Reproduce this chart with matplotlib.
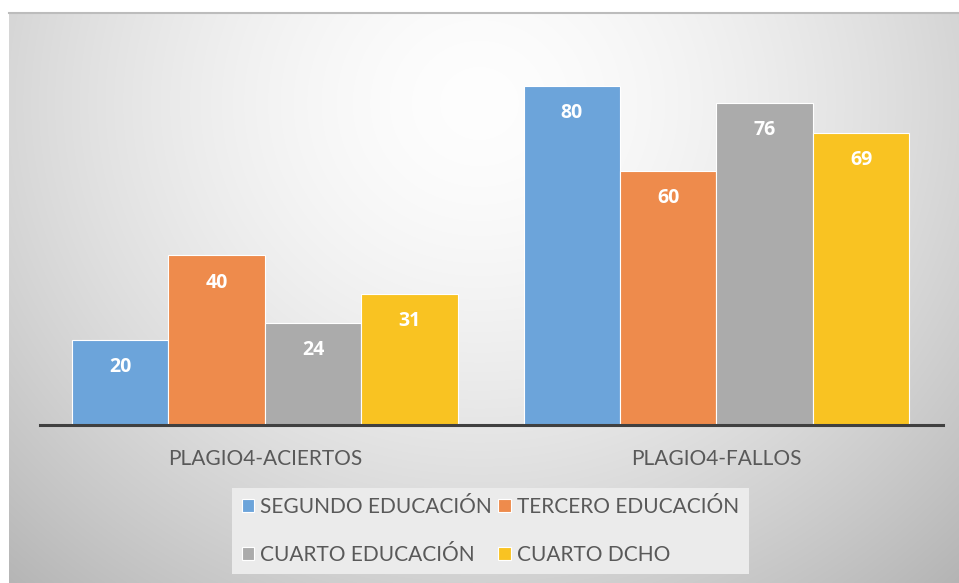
import numpy as np
import matplotlib
matplotlib.use('Agg')
import matplotlib.pyplot as plt

# datos
categorias = ['PLAGIO4-ACIERTOS', 'PLAGIO4-FALLOS']
series = ['SEGUNDO EDUCACIÓN', 'TERCERO EDUCACIÓN', 'CUARTO EDUCACIÓN', 'CUARTO DCHO']
segundo_edu = [20, 80]
tercero_edu = [40, 60]
cuarto_edu = [24, 76]
cuarto_dcho = [31, 69]
valores = [segundo_edu, tercero_edu, cuarto_edu, cuarto_dcho]
colores = ['#6CA4DA', '#EE8B4C', '#ABABAB', '#F9C322']

plt.rcParams['font.family'] = ['Lato', 'DejaVu Sans']

W, H = 959, 583
fig = plt.figure(figsize=(W / 100, H / 100), dpi=100)

# fondo con degradado radial
bg = fig.add_axes([9 / W, 0, 950 / W, 570 / H], zorder=0)
yy, xx = np.mgrid[0:570, 0:950]
d = np.sqrt(((xx - 470) / 560.0) ** 2 + ((yy - 90) / 520.0) ** 2)
val = 0.995 - 0.2 * np.clip(d, 0, 1.4) ** 1.6
bg.imshow(np.dstack([val, val, val]), aspect='auto', extent=(0, 950, 570, 0))
bg.set_xticks([])
bg.set_yticks([])
for s in ['left', 'right', 'bottom']:
    bg.spines[s].set_visible(False)
bg.spines['top'].set_color('#bcbcbc')
bg.spines['top'].set_linewidth(1.5)

ax = fig.add_axes([40 / W, (H - 425) / H, 903 / W, 339 / H], zorder=1)
ax.patch.set_alpha(0)

x = np.arange(len(categorias))
w = 0.2137
for i, (nombre, v) in enumerate(zip(series, valores)):
    pos = x + (i - 1.5) * w
    bars = ax.bar(pos, v, w, color=colores[i], edgecolor='white', linewidth=0.8, label=nombre)
    for b, val_ in zip(bars, v):
        ax.annotate(str(val_), (b.get_x() + b.get_width() / 2, val_), xytext=(0, -19.5),
                    textcoords='offset points', ha='center', va='center',
                    color='white', fontsize=14, fontweight='bold', family='Open Sans')

ax.set_xlim(-0.4983, 1.5017)
ax.set_ylim(0, 80)
ax.set_yticks([])
ax.set_xticks(x)
ax.set_xticklabels(categorias, fontsize=15, color='#595959')
ax.tick_params(axis='x', length=0, pad=17)
for s in ['left', 'right', 'top']:
    ax.spines[s].set_visible(False)
ax.spines['bottom'].set_color('#404040')
ax.spines['bottom'].set_linewidth(2.2)

h, l = ax.get_legend_handles_labels()
orden = [0, 2, 1, 3]
leg = fig.legend([h[k] for k in orden], [l[k] for k in orden], ncol=2,
                 loc='center', bbox_to_anchor=(490.5 / W, (H - 531) / H),
                 fontsize=15, frameon=True, fancybox=False, facecolor='#ebebeb',
                 edgecolor='none', framealpha=1, handlelength=0.6, handleheight=0.6,
                 handletextpad=0.3, columnspacing=0.3, labelspacing=1.35,
                 borderpad=0.45, labelcolor='#595959')

plt.savefig('out.png', dpi=100)
